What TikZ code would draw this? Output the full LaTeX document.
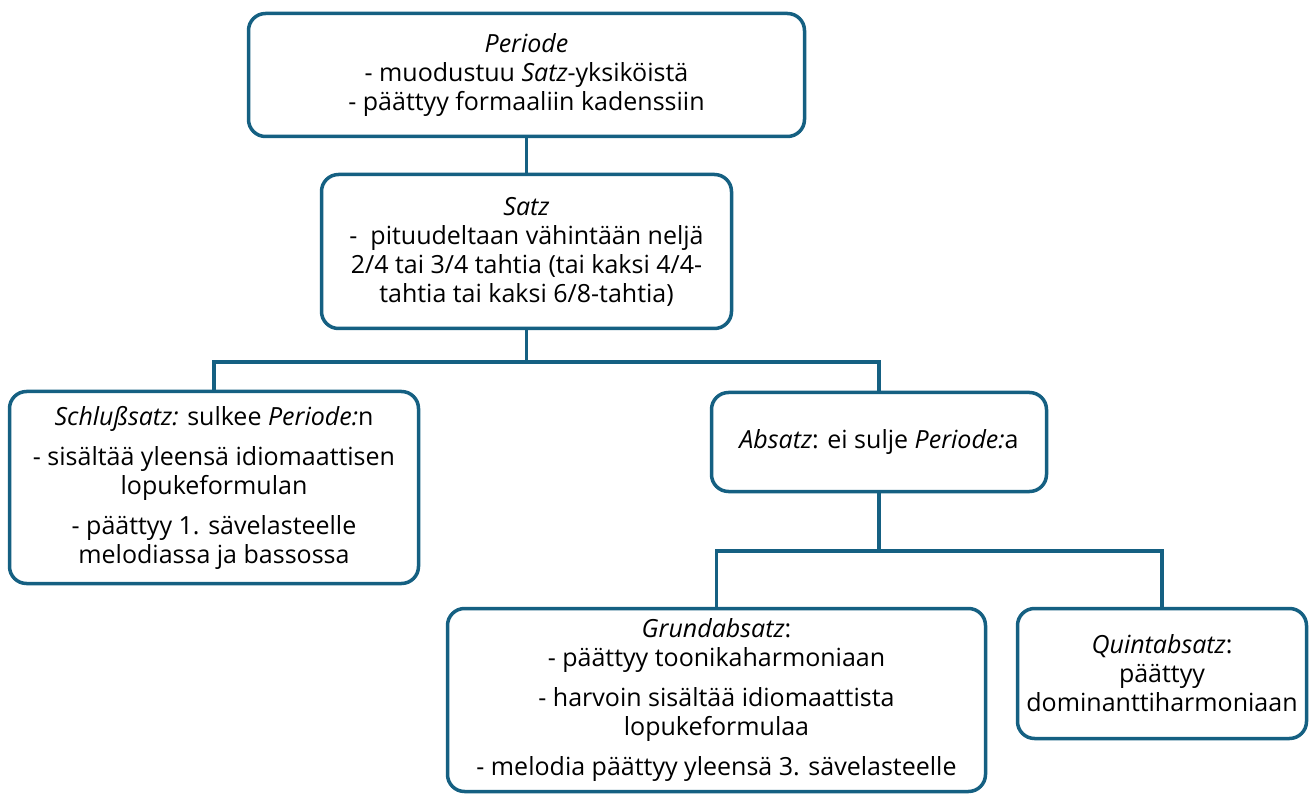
\documentclass[tikz,border=0pt]{standalone}
\usepackage{fontspec}
\setmainfont{Open Sans}
\usepackage{xcolor}
\usepackage{tikz}
\definecolor{boxblue}{RGB}{21,96,130}
\tikzstyle{box} = [draw=boxblue,line width=3.5pt,rounded corners=17pt,fill=white,align=center,inner sep=0pt,font=\fontsize{25}{29}\selectfont]
\tikzstyle{link} = [draw=boxblue,line width=3.5pt]

\begin{document}
\begin{tikzpicture}[x=1pt,y=-1pt]
	\useasboundingbox (0,0) rectangle (1310,794);

	% Boxes:
	% Each box is placed at its centre, with a fixed size
	\node[box,minimum width=556,minimum height=123] (periode) at (526.5,75)
		{\textit{Periode}\\- muodustuu \textit{Satz}-yksiköistä\\- päättyy formaaliin kadenssiin};
	\node[box,minimum width=410,minimum height=154] (satz) at (526.5,251.5)
		{\textit{Satz}\\-\ \ pituudeltaan vähintään neljä\\2/4 tai 3/4 tahtia (tai kaksi 4/4-\\tahtia tai kaksi 6/8-tahtia)};
	\node[box,minimum width=409,minimum height=192] (schluss) at (214,487.5)
		{\textit{Schlußsatz:} sulkee \textit{Periode:}n\\[11pt]- sisältää yleensä idiomaattisen\\lopukeformulan\\[11pt]- päättyy 1. sävelasteelle\\melodiassa ja bassossa};
	\node[box,minimum width=335,minimum height=99] (absatz) at (879,442)
		{\textit{Absatz}: ei sulje \textit{Periode:}a};
	\node[box,minimum width=538,minimum height=183] (grund) at (716.5,700)
		{\textit{Grundabsatz}:\\- päättyy toonikaharmoniaan\\[11pt]- harvoin sisältää idiomaattista\\lopukeformulaa\\[11pt]- melodia päättyy yleensä 3. sävelasteelle};
	\node[box,minimum width=289,minimum height=130] (quint) at (1162,673.5)
		{\textit{Quintabsatz}:\\päättyy\\dominanttiharmoniaan};

	% Connectors:
	% The forks are drawn with `|-` and `-|` through a coordinate
	\coordinate (fork1) at (526.5,362);
	\coordinate (fork2) at (879,551);
	\draw[link] (periode.south) -- (satz.north);
	\draw[link] (satz.south) -- (fork1);
	\draw[link] (schluss.north) |- (fork1) -| (absatz.north);
	\draw[link] (absatz.south) -- (fork2);
	\draw[link] (grund.north) |- (fork2) -| (quint.north);
\end{tikzpicture}
\end{document}
